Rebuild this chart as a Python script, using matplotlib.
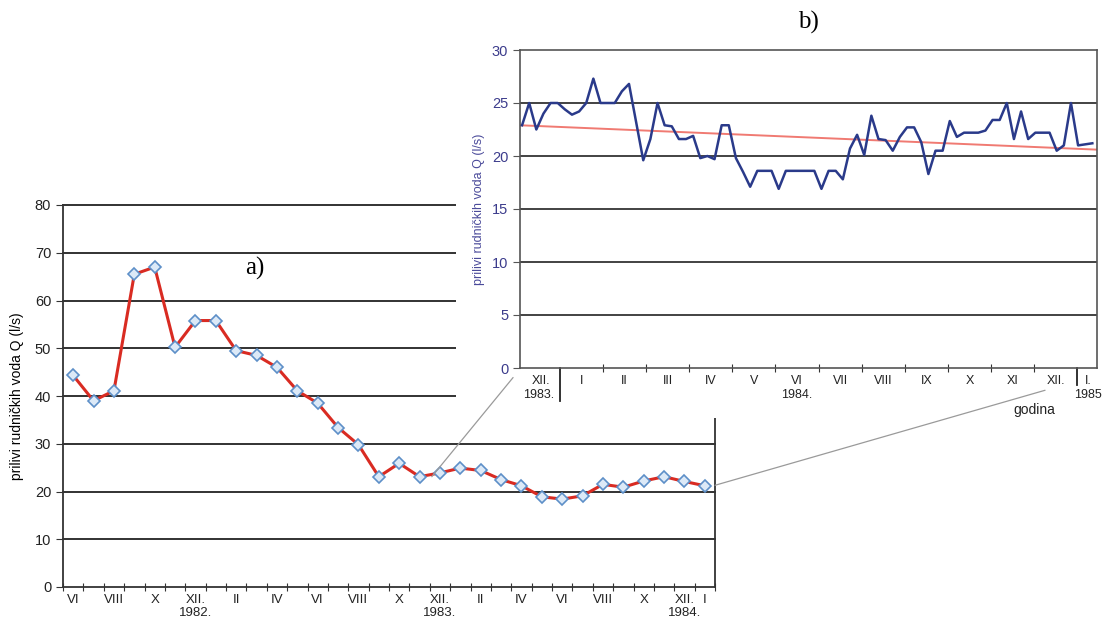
import numpy as np
import matplotlib
matplotlib.use('Agg')
import matplotlib.pyplot as plt
import matplotlib.transforms as mtransforms
from matplotlib.patches import Rectangle, ConnectionPatch

plt.rcParams['font.family'] = ['Liberation Sans', 'DejaVu Sans']

# a) monthly inflow, VI 1982 - I 1985
q_month = [44.3, 39.0, 41.1, 65.5, 67.0, 50.2, 55.8, 55.8, 49.5, 48.5,
           46.0, 41.1, 38.5, 33.4, 29.8, 23.1, 25.9, 23.1, 23.9, 24.9,
           24.4, 22.5, 21.2, 18.9, 18.4, 19.1, 21.5, 20.9, 22.2, 23.1,
           22.1, 21.2]
a_labels = ['VI', 'VIII', 'X', 'XII.', 'II', 'IV', 'VI', 'VIII', 'X', 'XII.',
            'II', 'IV', 'VI', 'VIII', 'X', 'XII.', 'I']
a_years = ['1982.', '1983.', '1984.']

# b) 5-day inflow, XII 1983 - I 1985
q_5day = [22.9, 25.0, 22.5, 24.0, 25.0, 25.0, 24.4, 23.9, 24.2, 25.0,
          27.3, 25.0, 25.0, 25.0, 26.1, 26.8, 23.2, 19.6, 21.6, 25.0,
          22.9, 22.8, 21.6, 21.6, 21.9, 19.8, 20.0, 19.7, 22.9, 22.9,
          19.8, 18.5, 17.1, 18.6, 18.6, 18.6, 16.9, 18.6, 18.6, 18.6,
          18.6, 18.6, 16.9, 18.6, 18.6, 17.8, 20.7, 22.0, 20.1, 23.8,
          21.6, 21.5, 20.5, 21.8, 22.7, 22.7, 21.3, 18.3, 20.5, 20.5,
          23.3, 21.8, 22.2, 22.2, 22.2, 22.4, 23.4, 23.4, 25.0, 21.6,
          24.2, 21.6, 22.2, 22.2, 22.2, 20.5, 21.0, 25.0, 21.0, 21.1,
          21.2]
trend_ends = [22.9, 20.6]
b_labels = ['XII.', 'I', 'II', 'III', 'IV', 'V', 'VI', 'VII', 'VIII', 'IX',
            'X', 'XI', 'XII.', 'I.']
b_years = ['1983.', '1984.', '1985']

ylab = 'prilivi rudničkih voda Q (l/s)'

fig = plt.figure(figsize=(11.07, 6.26), dpi=100)

# ---------------- a) ----------------
ax = fig.add_axes([63/1107, 39/626, 652/1107, 382/626])
xa = np.arange(len(q_month))
ax.plot(xa, q_month, color='#d92b22', lw=2.2, zorder=3,
        marker='D', ms=6.5, mfc='#dce9f7', mec='#5d8fc8', mew=1.2)
ax.set_xlim(-0.5, len(q_month) - 0.5)
ax.set_ylim(0, 80)
ax.set_yticks(np.arange(0, 81, 10))
for v in range(10, 81, 10):
    ax.axhline(v, color='#222222', lw=1.3, zorder=1, clip_on=False)
ax.spines['top'].set_visible(False)
for s in ['left', 'bottom', 'right']:
    ax.spines[s].set_color('#333333')
    ax.spines[s].set_linewidth(1.3)
ax.set_xticks(np.arange(-0.5, len(q_month), 1))
ax.set_xticklabels([])
ax.tick_params(axis='x', which='major', direction='inout', length=6,
               color='#333333')
lab_pos = list(range(0, 31, 2)) + [31]
ax.set_xticks(lab_pos, minor=True)
ax.set_xticklabels(a_labels, minor=True, fontsize=9.5, color='#222222')
ax.tick_params(axis='x', which='minor', length=0, pad=5)
ax.tick_params(axis='y', direction='out', length=5, labelsize=10.5,
               color='#333333', labelcolor='#222222')
ta = mtransforms.blended_transform_factory(ax.transData, ax.transAxes)
for pos, yr in zip([6, 18, 30], a_years):
    ax.text(pos, -0.068, yr, transform=ta, ha='center', va='center',
            fontsize=9.5, color='#222222')
ax.set_ylabel(ylab, fontsize=10, labelpad=8)
fig.text(255/1107, 1 - 268/626, 'a)', family='Liberation Serif',
         fontsize=18, ha='center', va='center')

# white area behind the inset
fig.patches.append(Rectangle((456/1107, 1 - 418/626), 1, 1,
                             transform=fig.transFigure, facecolor='white',
                             edgecolor='none', zorder=1))

# ---------------- b) ----------------
bx = fig.add_axes([520/1107, 258/626, 577/1107, 318/626], zorder=2)
b_step = 0.1654
xb = 0.12 + np.arange(len(q_5day)) * b_step
blim = (0.072, 13.46)
bx.plot(xb, q_5day, color='#2a3a8a', lw=1.8, zorder=3)
bx.plot(blim, trend_ends, color='#f07a72', lw=1.4, zorder=2)
bx.set_xlim(*blim)
bx.set_ylim(0, 30)
bx.set_yticks(np.arange(0, 31, 5))
for v in range(5, 30, 5):
    bx.axhline(v, color='#222222', lw=1.2, zorder=1)
for s in bx.spines.values():
    s.set_color('#555555')
    s.set_linewidth(1.2)
bx.tick_params(axis='y', direction='out', length=5, labelsize=10.5,
               color='#555555', labelcolor='#3c3c8c')
bx.set_xticks(np.arange(2, 13))
bx.set_xticklabels([])
bx.tick_params(axis='x', which='major', direction='inout', length=6,
               color='#333333')
bx.set_xticks([0.55, 1.5, 2.5, 3.5, 4.5, 5.5, 6.5, 7.5, 8.5, 9.5, 10.5,
               11.5, 12.5, 13.25], minor=True)
bx.set_xticklabels(b_labels, minor=True, fontsize=9, color='#222222')
bx.tick_params(axis='x', which='minor', length=0, pad=5)
tb = mtransforms.blended_transform_factory(bx.transData, bx.transAxes)
bx.plot([1, 1], [0, -0.105], transform=tb, color='#222222', lw=1.3,
        clip_on=False)
bx.plot([13, 13], [0, -0.055], transform=tb, color='#222222', lw=1.3,
        clip_on=False)
for pos, yr in zip([0.5, 6.5, 13.25], b_years):
    bx.text(pos, -0.086, yr, transform=tb, ha='center', va='center',
            fontsize=9, color='#222222')
bx.text(12.0, -0.132, 'godina', transform=tb, ha='center', va='center',
        fontsize=10, color='#222222')
bx.set_ylabel(ylab, fontsize=9, color='#4a4a9a', labelpad=5)
fig.text(808/1107, 1 - 22/626, 'b)', family='Liberation Serif',
         fontsize=18, ha='center', va='center')

# zoom connector lines
c1 = ConnectionPatch(xyA=(17.6, q_month[18] - 0.8), coordsA=ax.transData,
                     xyB=(-0.012, -0.03), coordsB=bx.transAxes,
                     color='#9a9a9a', lw=0.9, zorder=5)
c2 = ConnectionPatch(xyA=(31.5, q_month[31] + 0.1), coordsA=ax.transData,
                     xyB=(0.91, -0.07), coordsB=bx.transAxes,
                     color='#9a9a9a', lw=0.9, zorder=5)
fig.add_artist(c1)
fig.add_artist(c2)

fig.savefig('out.png', dpi=100)
